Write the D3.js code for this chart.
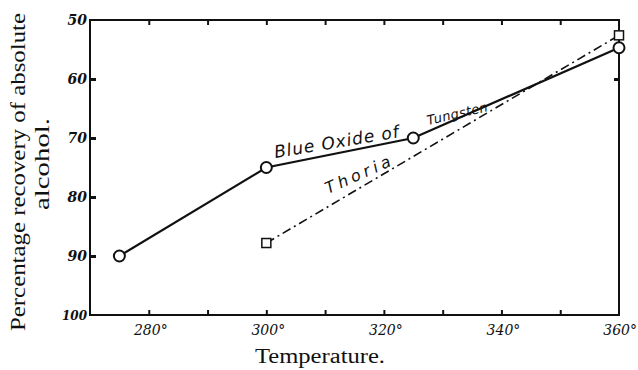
<!DOCTYPE html>
<html><head><meta charset="utf-8">
<script src="https://cdn.jsdelivr.net/npm/d3@7"></script>
<style>body{margin:0;background:#fff}svg{display:block}</style>
</head><body>
<script>
const tungstenTemps = [275, 300, 325, 360];
const tungstenValues = [90, 75, 70, 54.7];
const thoriaTemps = [300, 360];
const thoriaValues = [87.8, 52.6];
const xTickValues = [280, 300, 320, 340, 360];
const xMinorTicks = [280, 290, 300, 310, 320, 330, 340, 350];
const yTickValues = [50, 60, 70, 80, 90, 100];

const W = 638, H = 370;
const m = {left: 90, right: 19, top: 20, bottom: 55};
const svg = d3.select("body").append("svg").attr("width", W).attr("height", H);
const x = d3.scaleLinear().domain([270, 360]).range([m.left, W - m.right]);
const y = d3.scaleLinear().domain([50, 100]).range([m.top, H - m.bottom]);
const ink = "#111";

// frame
svg.append("rect").attr("x", x(270)).attr("y", y(50))
  .attr("width", x(360) - x(270)).attr("height", y(100) - y(50))
  .attr("fill", "none").attr("stroke", ink).attr("stroke-width", 2);

// bottom/top axis ticks (inward)
const gBottom = svg.append("g").attr("transform", `translate(0,${y(100)})`)
  .call(d3.axisBottom(x).tickValues(xMinorTicks).tickSize(-5).tickFormat(""));
gBottom.select(".domain").remove();
gBottom.selectAll("line").attr("stroke", ink).attr("stroke-width", 2);
const gTop = svg.append("g").attr("transform", `translate(0,${y(50)})`)
  .call(d3.axisTop(x).tickValues(xMinorTicks).tickSize(-5).tickFormat(""));
gTop.select(".domain").remove();
gTop.selectAll("line").attr("stroke", ink).attr("stroke-width", 2);

svg.append("g").selectAll("text").data(xTickValues).join("text")
  .attr("x", d => d === 360 ? W - 1 : x(d) + 2).attr("y", y(100) + 20)
  .attr("text-anchor", d => d === 360 ? "end" : "middle")
  .attr("font-family", "DejaVu Serif").attr("font-style", "italic")
  .attr("font-size", 14).attr("fill", ink)
  .text(d => d + "°");

// left/right axis ticks and labels
const gLeft = svg.append("g").attr("transform", `translate(${x(270)},0)`)
  .call(d3.axisRight(y).tickValues([60, 70, 80, 90]).tickSize(6).tickFormat(""));
gLeft.select(".domain").remove();
gLeft.selectAll("line").attr("stroke", ink).attr("stroke-width", 3);
const gRight = svg.append("g").attr("transform", `translate(${x(360)},0)`)
  .call(d3.axisLeft(y).tickValues([60]).tickSize(5).tickFormat(""));
gRight.select(".domain").remove();
gRight.selectAll("line").attr("stroke", ink).attr("stroke-width", 3);

svg.append("g").selectAll("text").data(yTickValues).join("text")
  .attr("x", x(270) - 3).attr("y", d => y(d) + 5)
  .attr("text-anchor", "end")
  .attr("font-family", "DejaVu Serif").attr("font-style", "italic").attr("font-weight", "bold")
  .attr("font-size", d => d === 100 ? 12 : 14).attr("fill", ink)
  .text(d => d);

// lines
const line = d3.line().x(d => x(d[0])).y(d => y(d[1]));
const tData = tungstenTemps.map((t, i) => [t, tungstenValues[i]]);
const thData = thoriaTemps.map((t, i) => [t, thoriaValues[i]]);
svg.append("path").datum(thData).attr("d", line).attr("fill", "none")
  .attr("stroke", ink).attr("stroke-width", 1.6).attr("stroke-dasharray", "9,4,2,4");
svg.append("path").datum(tData).attr("d", line).attr("fill", "none")
  .attr("stroke", ink).attr("stroke-width", 2.2);

// markers
svg.append("g").selectAll("circle").data(tData).join("circle")
  .attr("cx", d => x(d[0])).attr("cy", d => y(d[1])).attr("r", 5.5)
  .attr("fill", "#fff").attr("stroke", ink).attr("stroke-width", 2);
svg.append("g").selectAll("rect").data(thData).join("rect")
  .attr("x", d => x(d[0]) - 4.5).attr("y", d => y(d[1]) - 4.5)
  .attr("width", 9).attr("height", 9)
  .attr("fill", "#fff").attr("stroke", ink).attr("stroke-width", 1.5);

// series labels
function lab(txt, tx, tv, ang, size, len) {
  svg.append("text").attr("transform", `translate(${x(tx)},${y(tv)}) rotate(${ang})`)
    .attr("font-family", "DejaVu Sans").attr("font-style", "italic")
    .attr("font-size", size).attr("fill", ink)
    .attr("textLength", len).attr("lengthAdjust", "spacing").text(txt);
}
lab("Blue Oxide of", 301.5, 73.4, -9.5, 17, 126);
lab("Tungsten", 327.5, 67.8, -13, 13, 62);
lab("Thoria", 310.5, 79.5, -24, 16, 70);

// axis titles
svg.append("text").attr("x", 255).attr("y", 363)
  .attr("font-family", "Liberation Serif").attr("font-size", 20).attr("fill", ink)
  .attr("textLength", 130).attr("lengthAdjust", "spacingAndGlyphs")
  .text("Temperature.");
svg.append("text").attr("transform", "translate(25,172) rotate(-90)")
  .attr("text-anchor", "middle")
  .attr("font-family", "Liberation Serif").attr("font-size", 21).attr("fill", ink)
  .attr("textLength", 318).attr("lengthAdjust", "spacingAndGlyphs")
  .text("Percentage recovery of absolute");
svg.append("text").attr("transform", "translate(49,164) rotate(-90)")
  .attr("text-anchor", "middle")
  .attr("font-family", "Liberation Serif").attr("font-size", 21).attr("fill", ink)
  .attr("textLength", 92).attr("lengthAdjust", "spacingAndGlyphs")
  .text("alcohol.");
</script>
</body></html>
